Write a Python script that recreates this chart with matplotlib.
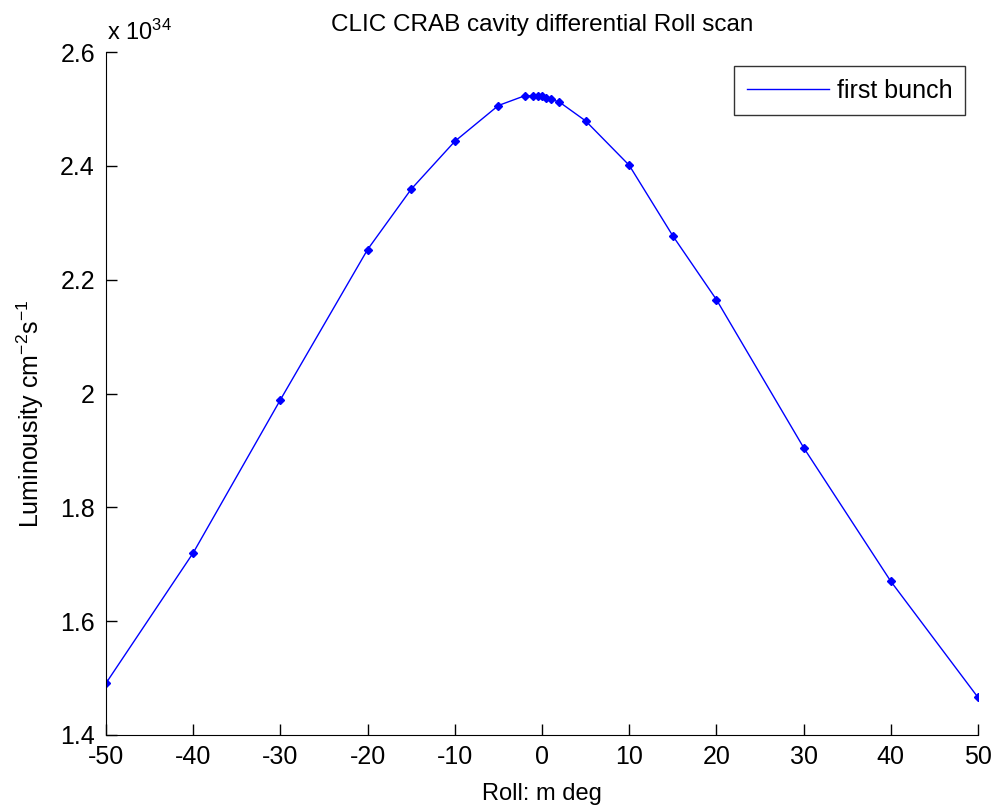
import matplotlib
matplotlib.use("Agg")
import matplotlib.pyplot as plt
from matplotlib.ticker import FuncFormatter

fam = "Liberation Sans"
plt.rcParams['font.family'] = [fam, 'DejaVu Sans']
plt.rcParams['axes.unicode_minus'] = False
plt.rcParams['mathtext.fontset'] = 'custom'
plt.rcParams['mathtext.rm'] = fam
plt.rcParams['mathtext.it'] = fam
plt.rcParams['mathtext.default'] = 'regular'

roll = [-50, -40, -30, -20, -15, -10, -5, -2, -1, -0.5, 0, 0.5, 1, 2, 5, 10, 15, 20, 30, 40, 50]
lumi = [1.491, 1.720, 1.989, 2.253, 2.359, 2.443, 2.506, 2.523, 2.523, 2.523, 2.522, 2.520, 2.517,
        2.512, 2.479, 2.401, 2.277, 2.165, 1.905, 1.670, 1.466]  # x 1e34
xticks = [-50, -40, -30, -20, -10, 0, 10, 20, 30, 40, 50]
yticks = [1.4, 1.6, 1.8, 2.0, 2.2, 2.4, 2.6]

fig = plt.figure(figsize=(9.92, 8.07), dpi=100)
ax = fig.add_axes([106/992, 1-735/807, (978-106)/992, (735-52)/807])
ax.plot(roll, lumi, color=(0, 0, 1), lw=1.0, marker='D', markersize=4.5, label='first bunch')
ax.set_xlim(-50, 50)
ax.set_ylim(1.4, 2.6)
ax.set_xticks(xticks)
ax.set_yticks(yticks)
ax.yaxis.set_major_formatter(FuncFormatter(lambda v, p: f"{v:g}"))
ax.spines['top'].set_visible(False)
ax.spines['right'].set_visible(False)
ax.tick_params(direction='in', length=8, width=1, labelsize=18)
ax.tick_params(axis='y', pad=8)
ax.tick_params(axis='x', pad=7)
ax.set_xlabel('Roll: m deg', fontsize=17, labelpad=10)
ax.set_ylabel('Luminousity cm$^{-2}$s$^{-1}$', fontsize=18)
ax.yaxis.set_label_coords(-0.069, 0.47)
ax.set_title('CLIC CRAB cavity differential Roll scan', fontsize=17.5, pad=15)
ax.text(0.001, 1.017, r'x 10$^{34}$', transform=ax.transAxes, fontsize=17, ha='left', va='baseline')
leg = ax.legend(loc='upper right', fontsize=18, frameon=True, fancybox=False,
                edgecolor='black', handlelength=3.3, handletextpad=0.3, borderpad=0.5,
                borderaxespad=0)
leg.get_frame().set_linewidth(1.0)
for h in leg.legend_handles:
    h.set_marker('')
leg.set_bbox_to_anchor((965/992, 1-66/807), transform=fig.transFigure)
fig.savefig('out.png', dpi=100)
